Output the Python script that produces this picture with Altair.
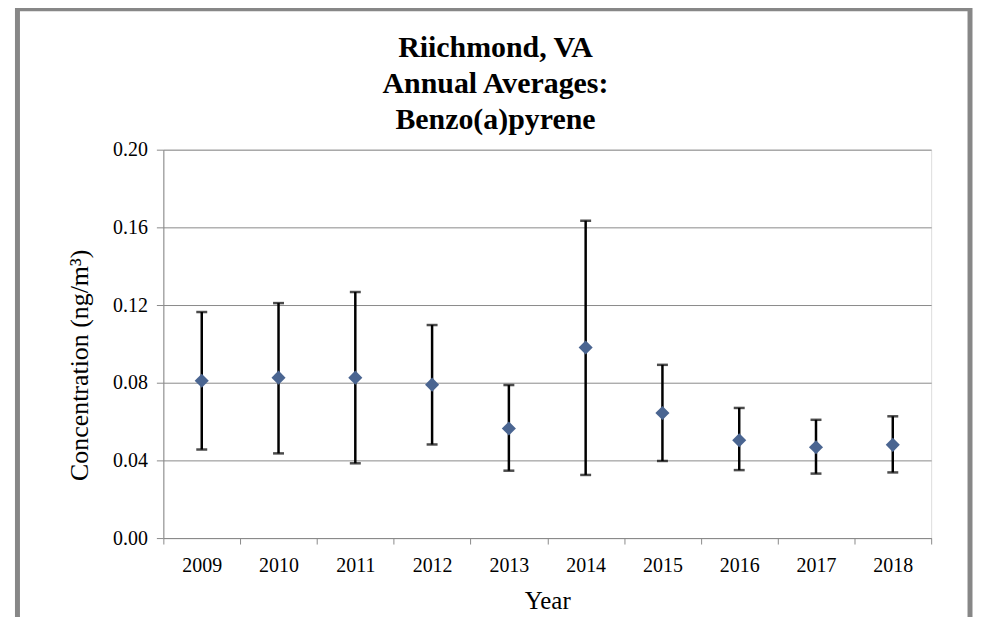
import altair as alt
import pandas as pd

years = ["2009", "2010", "2011", "2012", "2013", "2014", "2015", "2016", "2017", "2018"]
means = [0.0810, 0.0826, 0.0826, 0.0790, 0.0564, 0.0981, 0.0644, 0.0504, 0.0468, 0.0480]
upper = [0.1164, 0.1210, 0.1267, 0.1097, 0.0788, 0.1634, 0.0892, 0.0670, 0.0609, 0.0627]
lower = [0.0456, 0.0436, 0.0385, 0.0482, 0.0347, 0.0325, 0.0397, 0.0350, 0.0332, 0.0338]
y_ticks = [0.0, 0.04, 0.08, 0.12, 0.16, 0.20]
title_lines = ["Riichmond, VA", "Annual Averages:", "Benzo(a)pyrene"]

df = pd.DataFrame({"year": years, "mean": means, "upper": upper, "lower": lower})

FONT = "Liberation Serif"
GRID = "#8a8a8a"

x_enc = alt.X(
    "year:N",
    sort=years,
    title="Year",
    scale=alt.Scale(paddingInner=0, paddingOuter=0),
    axis=alt.Axis(
        labelAngle=0,
        tickBand="extent",
        tickSize=6,
        tickColor=GRID,
        domainColor=GRID,
        labelFont=FONT,
        labelFontSize=20,
        labelColor="black",
        labelPadding=12,
        titleFont=FONT,
        titleFontSize=25,
        titleFontWeight="normal",
        titleColor="black",
        titlePadding=13,
        grid=False,
    ),
)

y_axis = alt.Axis(
    values=y_ticks,
    format=".2f",
    grid=True,
    gridColor=GRID,
    gridWidth=1,
    tickSize=7,
    tickColor=GRID,
    domainColor=GRID,
    labelFont=FONT,
    labelFontSize=20,
    labelColor="black",
    labelPadding=9,
    titleFont=FONT,
    titleFontSize=26,
    titleFontWeight="normal",
    titleColor="black",
    titlePadding=20,
    titleY=216,
)

y_scale = alt.Scale(domain=[0, 0.2], nice=False)

base = alt.Chart(df)

rules = base.mark_rule(color="black", strokeWidth=2.5).encode(
    x=x_enc,
    y=alt.Y("lower:Q", scale=y_scale, axis=y_axis, title="Concentration (ng/m³)"),
    y2="upper:Q",
)
caps_hi = base.mark_tick(color="black", thickness=2.5, size=11).encode(
    x=x_enc, y=alt.Y("upper:Q", scale=y_scale)
)
caps_lo = base.mark_tick(color="black", thickness=2.5, size=11).encode(
    x=x_enc, y=alt.Y("lower:Q", scale=y_scale)
)
points = base.mark_point(shape="diamond", filled=True, size=200, color="#4A6591", opacity=1).encode(
    x=x_enc, y=alt.Y("mean:Q", scale=y_scale)
)

one = pd.DataFrame({"f": [0]})

frame = alt.Chart(one).mark_rect(
    filled=False, stroke="#878787", strokeWidth=5
).encode(
    x=alt.value(-146.5), x2=alt.value(810), y=alt.value(-141.5), y2=alt.value(520)
)

title = alt.Chart(one).mark_text(
    text=title_lines,
    font=FONT,
    fontSize=30,
    fontWeight="bold",
    color="black",
    align="center",
    baseline="alphabetic",
    lineHeight=36,
).encode(x=alt.value(333.5), y=alt.value(-93))

chart = (
    alt.layer(frame, title, rules, caps_hi, caps_lo, points)
    .properties(
        width=771,
        height=390,
        autosize=alt.AutoSizeParams(type="none"),
        padding={"left": 156, "top": 141, "right": 42, "bottom": 78},
    )
    .configure_view(stroke="transparent")
    .configure(background="white")
)

chart.save("out.html", embed_options={"renderer": "svg", "actions": False})
